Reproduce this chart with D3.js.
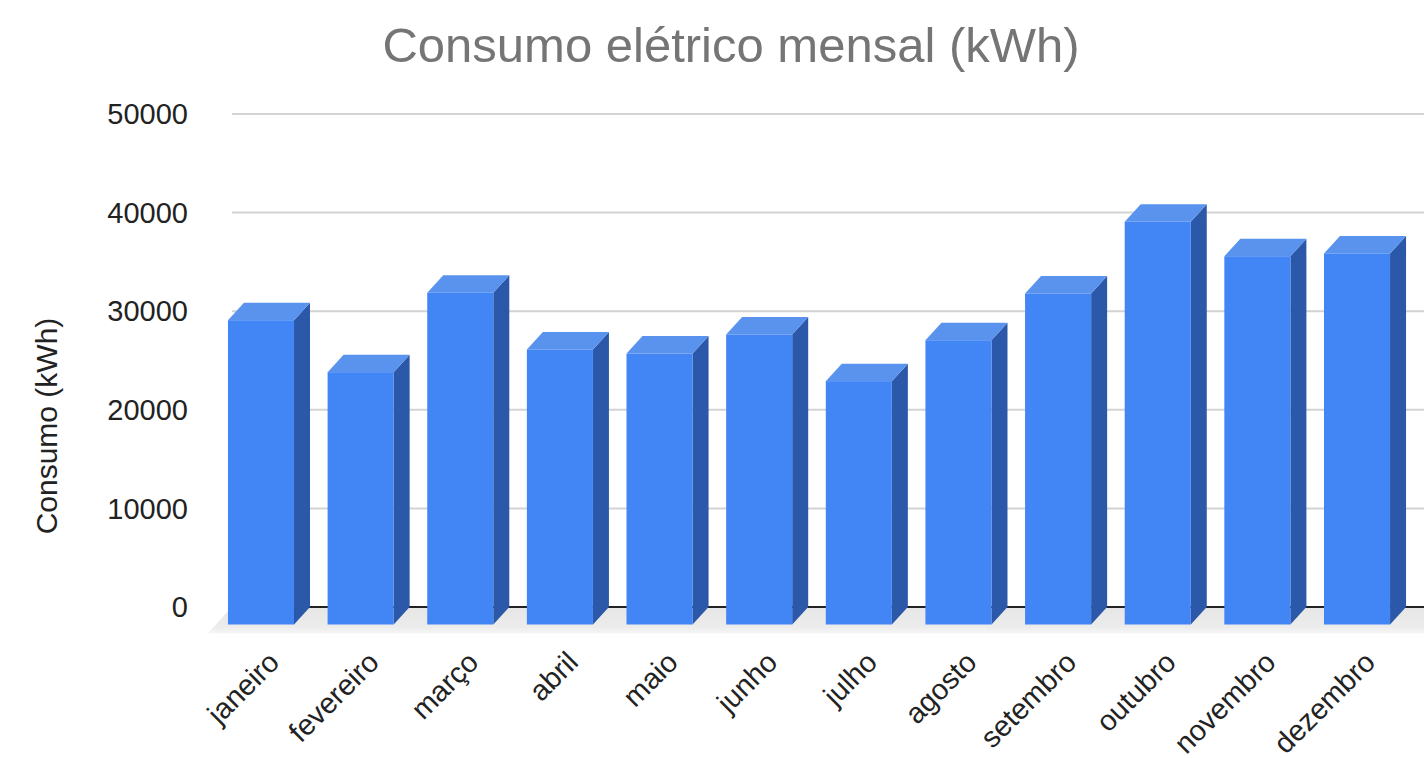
<!DOCTYPE html>
<html lang="pt">
<head>
<meta charset="utf-8">
<title>Consumo elétrico mensal</title>
<script src="https://cdn.jsdelivr.net/npm/d3@7"></script>
<style>
  body { margin: 0; background: #fff; }
  text { font-family: Arial, "Liberation Sans", sans-serif; }
  .grid line { stroke: #d3d3d3; stroke-width: 2; }
</style>
</head>
<body>
<script>
var w = 1424, h = 758;

// data
var months = ["janeiro", "fevereiro", "março", "abril", "maio", "junho",
              "julho", "agosto", "setembro", "outubro", "novembro", "dezembro"];
var consumo = [30860, 25590, 33640, 27890, 27480, 29410,
               24680, 28830, 33570, 40840, 37350, 37630];
var yTicks = [0, 10000, 20000, 30000, 40000, 50000];

var depthX = 16, depthY = 17.5;   // 3d offset of the bars
var wallLeft = 232;

var svg = d3.select("body").append("svg")
    .attr("width", w)
    .attr("height", h);

var x = d3.scaleBand()
    .domain(months)
    .range([wallLeft, 1418])
    .paddingInner(0.337)
    .paddingOuter(0.12);

var y = d3.scaleLinear()
    .domain([0, 50000])
    .range([607, 114]);

// floor, fading towards the front
var grad = svg.append("defs").append("linearGradient")
    .attr("id", "floor")
    .attr("x1", 0).attr("y1", 0).attr("x2", 0).attr("y2", 1);
grad.append("stop").attr("offset", "0%").attr("stop-color", "#e6e6e6");
grad.append("stop").attr("offset", "75%").attr("stop-color", "#ececec");
grad.append("stop").attr("offset", "100%").attr("stop-color", "#f6f6f6");

var y0 = y(0);
svg.append("polygon")
    .attr("points", [
      [wallLeft, y0], [w + 30, y0],
      [w + 30 - depthX * 1.5, y0 + depthY * 1.5], [wallLeft - depthX * 1.5, y0 + depthY * 1.5]
    ].map(function(p) { return p.join(","); }).join(" "))
    .attr("fill", "url(#floor)");

// gridlines on the back wall
svg.append("g")
    .attr("class", "grid")
    .selectAll("line")
    .data(yTicks.filter(function(d) { return d > 0; }))
    .enter()
    .append("line")
    .attr("x1", wallLeft)
    .attr("x2", w)
    .attr("y1", function(d) { return y(d); })
    .attr("y2", function(d) { return y(d); });

svg.append("line")
    .attr("x1", wallLeft)
    .attr("x2", w)
    .attr("y1", y0)
    .attr("y2", y0)
    .attr("stroke", "#222")
    .attr("stroke-width", 2);

// y axis labels
svg.append("g")
    .selectAll("text")
    .data(yTicks)
    .enter()
    .append("text")
    .attr("x", 188)
    .attr("y", function(d) { return y(d); })
    .attr("dy", "0.35em")
    .attr("text-anchor", "end")
    .attr("font-size", "29px")
    .attr("fill", "#222")
    .text(function(d) { return d; });

// bars
var bw = x.bandwidth();
var bars = svg.append("g")
    .selectAll("g")
    .data(months.map(function(m, i) { return { m: m, v: consumo[i] }; }))
    .enter()
    .append("g");

// front face corners
function fx(d) { return x(d.m) - depthX; }
function ft(d) { return y(d.v) + depthY; }
var fb = y0 + depthY;

bars.append("polygon")   // side
    .attr("fill", "#2b58a8")
    .attr("points", function(d) {
      var r = fx(d) + bw;
      return [[r, ft(d)], [r + depthX, ft(d) - depthY], [r + depthX, fb - depthY], [r, fb]].join(" ");
    });

bars.append("polygon")   // top
    .attr("fill", "#5a93ee")
    .attr("points", function(d) {
      var l = fx(d), r = fx(d) + bw, t = ft(d);
      return [[l, t], [l + depthX, t - depthY], [r + depthX, t - depthY], [r, t]].join(" ");
    });

bars.append("rect")      // front
    .attr("fill", "#4285f4")
    .attr("x", fx)
    .attr("y", ft)
    .attr("width", bw)
    .attr("height", function(d) { return fb - ft(d); });

// x labels
svg.append("g")
    .selectAll("text")
    .data(months)
    .enter()
    .append("text")
    .attr("transform", function(d) {
      return "translate(" + (x(d) + bw / 2 + 4) + ",664) rotate(-45)";
    })
    .attr("text-anchor", "end")
    .attr("font-size", "29px")
    .attr("fill", "#222")
    .text(function(d) { return d; });

// titles
svg.append("text")
    .attr("x", 731)
    .attr("y", 62)
    .attr("text-anchor", "middle")
    .attr("font-size", "49px")
    .attr("fill", "#757575")
    .text("Consumo elétrico mensal (kWh)");

svg.append("text")
    .attr("transform", "translate(57,426) rotate(-90)")
    .attr("text-anchor", "middle")
    .attr("font-size", "30px")
    .attr("fill", "#222")
    .text("Consumo (kWh)");
</script>
</body>
</html>
